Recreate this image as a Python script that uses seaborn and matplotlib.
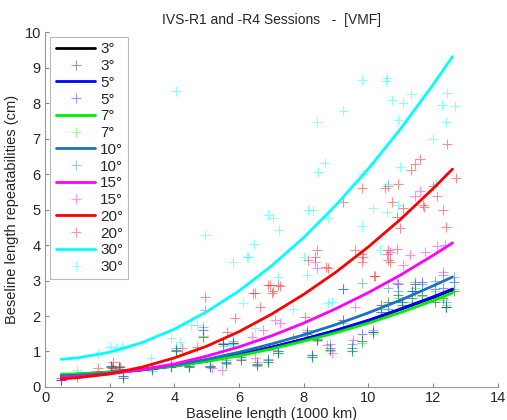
import numpy as np
import pandas as pd
import seaborn as sns
import matplotlib
matplotlib.use("Agg")
import matplotlib.pyplot as plt
from matplotlib.lines import Line2D

# ---------------- data ----------------
cutoffs = ["3°", "5°", "7°", "10°", "15°", "20°", "30°"]
colors = ["#000000", "#0000ff", "#00ee00", "#1a72c0", "#ff00ff", "#ff0000", "#00ffff"]

# fitted curves
x_fit = [0.5, 1, 2, 3, 4, 5, 6, 7, 8, 9, 10, 11, 12, 12.6]
fit_3 = [0.34, 0.36, 0.42, 0.49, 0.60, 0.74, 0.92, 1.12, 1.35, 1.59, 1.87, 2.19, 2.52, 2.74]
fit_5 = [0.32, 0.34, 0.40, 0.48, 0.59, 0.73, 0.91, 1.11, 1.34, 1.60, 1.88, 2.20, 2.54, 2.76]
fit_7 = [0.36, 0.37, 0.42, 0.49, 0.59, 0.72, 0.88, 1.07, 1.29, 1.53, 1.80, 2.10, 2.43, 2.65]
fit_10 = [0.31, 0.33, 0.39, 0.49, 0.62, 0.78, 0.98, 1.21, 1.47, 1.76, 2.09, 2.45, 2.85, 3.10]
fit_15 = [0.28, 0.29, 0.37, 0.49, 0.65, 0.87, 1.13, 1.44, 1.80, 2.21, 2.66, 3.16, 3.71, 4.06]
fit_20 = [0.23, 0.26, 0.37, 0.56, 0.82, 1.15, 1.56, 2.05, 2.61, 3.24, 3.95, 4.73, 5.59, 6.14]
fit_30 = [0.78, 0.82, 0.98, 1.25, 1.63, 2.12, 2.71, 3.41, 4.21, 5.13, 6.15, 7.28, 8.52, 9.31]

# repeatabilities of the individual baselines
x_low = [0.5, 2.05, 2.3, 2.4, 3.3, 3.9, 4.05, 4.45, 4.9, 5.1, 5.5, 5.6, 5.8, 6.05, 6.55, 6.9,
         7.2, 8.1, 8.25, 8.4, 8.8, 9.2, 9.5, 9.8, 10.15, 10.4, 10.6, 10.9, 11.05, 11.35, 11.45,
         11.65, 12.05, 12.3, 12.4, 12.65]
pts_3 = [0.2, 0.55, 0.55, 0.25, 0.5, 0.55, 1.0, 0.55, 1.4, 0.55, 1.2, 0.68, 1.25, 0.76, 0.62, 0.71,
         0.96, 1.5, 0.85, 1.33, 1.05, 1.9, 1.0, 1.3, 1.55, 2.3, 2.4, 2.6, 2.3, 2.5, 2.9,
         2.6, 2.4, 2.5, 2.25, 2.7]
pts_5 = [0.2, 0.6, 0.5, 0.3, 0.5, 0.6, 1.05, 0.6, 1.6, 0.6, 1.2, 0.7, 1.25, 0.85, 0.65, 0.75,
         1.0, 1.55, 0.9, 1.35, 1.1, 2.75, 1.1, 1.5, 1.55, 2.1, 2.2, 2.9, 2.4, 2.7, 2.7,
         2.95, 2.75, 2.8, 2.25, 2.95]
pts_7 = [0.25, 0.55, 0.55, 0.3, 0.45, 0.6, 1.0, 0.55, 1.45, 0.55, 1.15, 0.65, 1.2, 0.8, 0.6, 0.7,
         0.95, 1.45, 0.85, 1.3, 1.0, 1.8, 1.0, 1.25, 1.5, 2.2, 2.35, 2.5, 2.25, 2.4, 2.8,
         2.55, 2.7, 2.45, 2.3, 2.75]
pts_10 = [0.25, 0.6, 0.6, 0.3, 0.5, 0.65, 1.1, 0.6, 1.7, 0.6, 1.25, 0.75, 1.3, 0.9, 0.7, 0.8,
          1.0, 1.6, 0.9, 1.4, 1.2, 2.77, 1.2, 2.94, 1.6, 2.1, 2.8, 2.7, 2.4, 2.7, 2.97,
          2.9, 3.0, 3.15, 2.4, 3.1]

x_15 = [4.94, 8.34, 8.41, 7.11, 7.26, 6.74, 8.71, 5.16, 5.47, 6.49, 7.05, 6.40, 12.11, 12.36, 11.74,
        11.28, 10.66, 11.06, 10.88, 12.30, 9.52, 9.58, 8.87, 11.43, 11.59, 0.49, 2.10]
pts_15 = [2.18, 3.53, 3.36, 1.89, 1.81, 1.61, 1.19, 0.54, 0.48, 0.82, 1.05, 1.41, 3.98, 4.01, 3.81,
          3.73, 3.81, 3.45, 2.94, 3.25, 1.33, 2.26, 0.96, 5.37, 5.51, 0.20, 0.54]

x_20 = [11.59, 11.43, 11.31, 12.42, 12.70, 9.80, 10.51, 10.60, 10.91, 11.99, 12.11, 10.72, 11.06, 11.71,
        12.30, 9.21, 10.88, 10.97, 12.39, 8.41, 8.13, 8.68, 8.75, 9.58, 9.83, 10.17, 10.60, 10.60,
        10.88, 6.95, 7.20, 6.49, 7.01, 6.64, 11.68, 4.94, 6.43, 6.89, 7.05, 7.26, 5.87, 5.62,
        8.34, 8.03, 4.70, 7.66, 1.64, 2.10, 2.07, 2.32, 0.99, 4.23, 9.80, 9.80, 10.66, 10.20, 10.57]
pts_20 = [6.41, 6.27, 6.10, 6.86, 5.90, 5.62, 5.62, 5.65, 5.73, 5.65, 5.37, 5.20, 5.03, 5.08,
          5.00, 5.20, 4.80, 4.49, 4.52, 3.87, 3.59, 3.39, 3.36, 3.87, 3.67, 3.14, 3.59, 3.87,
          3.90, 2.88, 2.88, 2.66, 2.66, 2.26, 5.14, 2.54, 2.66, 2.88, 2.71, 2.85, 1.95, 1.55,
          3.67, 1.98, 1.13, 1.38, 0.54, 0.71, 0.54, 0.56, 0.28, 1.10, 3.76, 3.53, 3.53, 3.14, 3.76]

x_30 = [9.80, 10.57, 10.54, 11.31, 10.72, 11.06, 9.21, 12.42, 12.27, 12.67, 10.91, 12.39, 11.99, 10.97,
        9.83, 10.60, 12.08, 10.14, 10.57, 10.91, 9.80, 8.41, 8.65, 8.44, 4.94, 6.89, 7.05, 8.13,
        8.28, 7.23, 6.46, 6.24, 8.75, 8.00, 4.05, 5.81, 6.27, 7.20, 6.12, 7.66, 8.75, 8.10,
        6.49, 6.80, 5.72, 4.70, 5.50, 2.01, 2.19, 2.38, 1.64, 0.99, 3.28, 3.89, 4.17, 4.51,
        2.22, 10.35, 8.87]
pts_30 = [8.64, 8.70, 8.62, 8.25, 8.08, 7.99, 7.77, 8.28, 7.94, 7.91, 7.51, 7.46, 6.98, 6.21,
          5.99, 5.71, 5.71, 5.03, 4.92, 5.14, 4.55, 7.46, 6.30, 6.07, 4.27, 4.86, 4.75, 5.00,
          5.00, 4.41, 4.04, 3.67, 4.77, 3.67, 8.33, 3.53, 3.67, 3.11, 2.37, 2.20, 2.37, 3.16,
          1.67, 1.41, 1.19, 1.75, 1.05, 1.13, 1.10, 1.13, 0.93, 0.48, 0.82, 1.38, 1.27, 1.75,
          3.22, 3.87, 2.40]

fits = [fit_3, fit_5, fit_7, fit_10, fit_15, fit_20, fit_30]
points = [(x_low, pts_3), (x_low, pts_5), (x_low, pts_7), (x_low, pts_10),
          (x_15, pts_15), (x_20, pts_20), (x_30, pts_30)]
x_ticks = [0, 2, 4, 6, 8, 10, 12, 14]
y_ticks = [0, 1, 2, 3, 4, 5, 6, 7, 8, 9, 10]

# ---------------- plot ----------------
sns.set_style("ticks")
plt.rcParams["font.family"] = ["Liberation Sans", "DejaVu Sans"]

fig = plt.figure(figsize=(5.07, 4.20), dpi=100)
ax = fig.add_axes([0.0888, 0.0786, 0.893, 0.845])

handles = []
for i, lab in enumerate(cutoffs):
    px, py = points[i]
    sns.scatterplot(x=px, y=py, ax=ax, marker="+", color=colors[i], s=45,
                    linewidth=0.8, alpha=0.45, zorder=2, legend=False)
for i, lab in enumerate(cutoffs):
    sns.lineplot(x=x_fit, y=fits[i], ax=ax, color=colors[i], linewidth=2.0,
                 zorder=3, legend=False, sort=False)
    handles.append(Line2D([], [], color=colors[i], linewidth=2.0, label=lab))
    handles.append(Line2D([], [], color=colors[i], marker="+", linestyle="none",
                          markersize=7, markeredgewidth=0.8, alpha=0.4, label=lab))

ax.set_xlim(0, 14)
ax.set_ylim(0, 10)
ax.set_xticks(x_ticks)
ax.set_yticks(y_ticks)
ax.tick_params(direction="in", length=3, labelsize=10.5, color="#888888", pad=3)
for s in ["top", "right"]:
    ax.spines[s].set_visible(False)
for s in ["left", "bottom"]:
    ax.spines[s].set_color("#999999")
    ax.spines[s].set_linewidth(0.8)

ax.set_title("IVS-R1 and -R4 Sessions   -  [VMF]", fontsize=10, pad=6)
ax.set_xlabel("Baseline length (1000 km)", fontsize=10.5, labelpad=1)
ax.set_ylabel("Beseline length repeatabilities (cm)", fontsize=10.5, labelpad=4)

leg = ax.legend(handles=handles, loc="upper left", bbox_to_anchor=(0.005, 0.995),
                fontsize=11, frameon=True, fancybox=False, handlelength=2.6,
                labelspacing=0.18, borderpad=0.35, handletextpad=0.3,
                borderaxespad=0.2)
leg.get_frame().set_edgecolor("#aaaaaa")
leg.get_frame().set_linewidth(0.8)

fig.savefig("out.png", dpi=100)
